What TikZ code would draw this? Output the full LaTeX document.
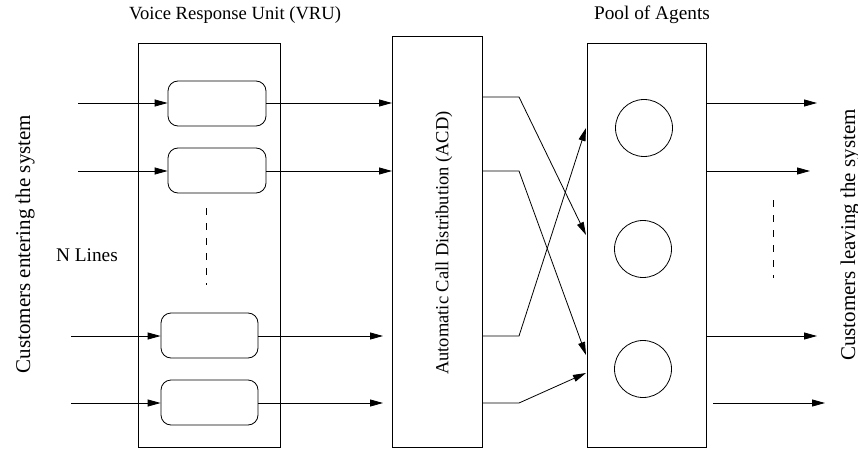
\documentclass[tikz,border=0pt]{standalone}
\usepackage{fontspec}
\setmainfont{Liberation Serif}
\usetikzlibrary{arrows.meta}
\begin{document}
\begin{tikzpicture}[x=1pt,y=-1pt,
  line width=0.8pt,
  bigbox/.style={draw},
  unitbox/.style={draw,rounded corners=10pt},
  agent/.style={draw,circle,minimum size=57pt,inner sep=0pt},
  flow/.style={-{Triangle[length=13pt,width=7pt]}},
  lbl/.style={font=\fontsize{19.3}{22}\selectfont,inner sep=0pt},
  sidelbl/.style={font=\fontsize{21}{24}\selectfont,inner sep=0pt,rotate=90},
  dots/.style={dash pattern=on 7pt off 8pt}]
\useasboundingbox (0,0) rectangle (858,449);
% big boxes
\draw[bigbox] (138,43) rectangle (280,447);
\draw[bigbox] (392,36) rectangle (482,447);
\draw[bigbox] (587,43) rectangle (706,447);
% VRU units
\node[unitbox,minimum width=98pt,minimum height=45pt] (r1) at (217,103.5) {};
\node[unitbox,minimum width=98pt,minimum height=45pt] (r2) at (217,170.5) {};
\node[unitbox,minimum width=97pt,minimum height=45pt] (r3) at (209.5,335.5) {};
\node[unitbox,minimum width=97pt,minimum height=45pt] (r4) at (209.5,402.5) {};
% agents
\node[agent] (c1) at (644,128) {};
\node[agent] (c2) at (643,249) {};
\node[agent] (c3) at (643,369) {};
% coordinates
\coordinate (i1) at (78,103);
\coordinate (i2) at (78,171);
\coordinate (i3) at (71,336);
\coordinate (i4) at (71,403);
\coordinate (a1) at (392,103);
\coordinate (a2) at (392,171);
\coordinate (a3) at (383,336);
\coordinate (a4) at (383,403);
\coordinate (o1) at (482,97);
\coordinate (o2) at (482,171);
\coordinate (o3) at (482,336);
\coordinate (o4) at (482,403);
\coordinate (k1) at (519,97);
\coordinate (k2) at (519,171);
\coordinate (k3) at (519,336);
\coordinate (k4) at (519,403);
\coordinate (t1) at (586,235);
\coordinate (t2) at (586,355);
\coordinate (t3) at (586,128);
\coordinate (t4) at (586,373);
\coordinate (p1) at (706,103);
\coordinate (p2) at (706,171);
\coordinate (p3) at (706,336);
\coordinate (p4) at (713,403);
\coordinate (e1) at (817,103);
\coordinate (e2) at (810,171);
\coordinate (e3) at (817,336);
\coordinate (e4) at (825,403);
% inputs
\draw[flow] (i1) -- (r1.west |- i1);
\draw[flow] (i2) -- (r2.west |- i2);
\draw[flow] (i3) -- (r3.west |- i3);
\draw[flow] (i4) -- (r4.west |- i4);
% VRU to ACD
\draw[flow] (r1.east |- a1) -- (a1);
\draw[flow] (r2.east |- a2) -- (a2);
\draw[flow] (r3.east |- a3) -- (a3);
\draw[flow] (r4.east |- a4) -- (a4);
% ACD to agents
\draw[flow] (o1) -- (k1) -- (t1);
\draw[flow] (o2) -- (k2) -- (t2);
\draw[flow] (o3) -- (k3) -- (t3);
\draw[flow] (o4) -- (k4) -- (t4);
% outputs
\draw[flow] (p1) -- (e1);
\draw[flow] (p2) -- (e2);
\draw[flow] (p3) -- (e3);
\draw[flow] (p4) -- (e4);
% dashed ellipses
\coordinate (d1a) at (206,208);
\coordinate (d1b) at (206,285);
\coordinate (d2a) at (773,200);
\coordinate (d2b) at (773,278);
\draw[dots] (d1a) -- (d1b);
\draw[dots] (d2a) -- (d2b);
% labels
\node[lbl,font=\fontsize{18.6}{22}\selectfont] (tv) at (235,15) {Voice Response Unit (VRU)};
\node[lbl] (tp) at (652,15) {Pool of Agents};
\node[lbl] (tn) at (87,255) {N Lines};
\node[sidelbl] (tin) at (25,244) {Customers entering the system};
\node[sidelbl] (tout) at (850,235) {Customers leaving the system};
\node[lbl,rotate=90,font=\fontsize{18.5}{22}\selectfont] (tacd) at (444,243) {Automatic Call Distribution (ACD)};
\end{tikzpicture}
\end{document}
